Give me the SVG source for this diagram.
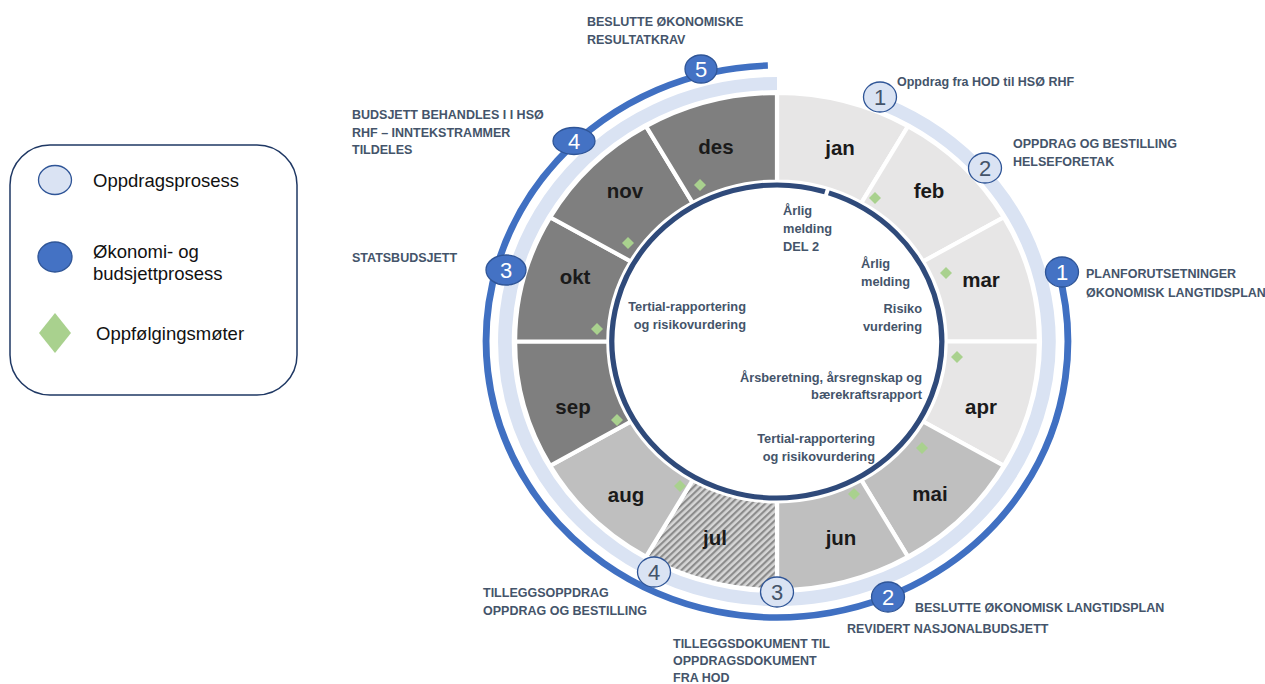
<svg xmlns="http://www.w3.org/2000/svg" width="1265" height="684" viewBox="0 0 1265 684">
<style>
.lbl{font-family:"Liberation Sans",Arial,sans-serif;font-weight:bold;font-size:12.5px;fill:#44546a}
.inn{font-family:"Liberation Sans",Arial,sans-serif;font-weight:bold;font-size:12.8px;fill:#44546a}
.mon{font-family:"Liberation Sans",Arial,sans-serif;font-weight:bold;font-size:20.5px;fill:#1a1a1a;text-anchor:middle}
.leg{font-family:"Liberation Sans",Arial,sans-serif;font-size:18.5px;fill:#111}
.num{font-family:"Liberation Sans",Arial,sans-serif;font-size:22px;text-anchor:middle}
.lc{fill:#dae3f3;stroke:#2f5597;stroke-width:1.3}
.dc{fill:#4472c4;stroke:#2f5597;stroke-width:1.3}
.lt{fill:#44546a}
.dt{fill:#fff}
.seg{stroke:#fff;stroke-width:4}
.m1{fill:#e7e6e6}
.m2{fill:#bfbfbf}
.m3{fill:#7f7f7f}
</style>
<defs>
<pattern id="hatch" patternUnits="userSpaceOnUse" width="4.6" height="4.6" patternTransform="rotate(45)">
<rect width="4.6" height="4.6" fill="#d6d6d6"/>
<rect width="2.1" height="4.6" fill="#8c8c8c"/>
</pattern>
<path id="dm" d="M0,-6 L6,0 L0,6 L-6,0Z" fill="#a9d18e"/>
</defs>
<rect width="1265" height="684" fill="#fff"/>

<g id="legend">
<rect x="10" y="145" width="287" height="250" rx="40" fill="#fff" stroke="#1f3864" stroke-width="1.5"/>
<ellipse class="lc" cx="55" cy="180" rx="16.5" ry="14.5"/>
<text class="leg" x="93" y="187">Oppdragsprosess</text>
<ellipse class="dc" cx="55" cy="257" rx="17" ry="15"/>
<text class="leg" x="93" y="258">Økonomi- og</text>
<text class="leg" x="93" y="280">budsjettprosess</text>
<path d="M55,313 L71,333 L55,353 L39,333Z" fill="#a9d18e"/>
<text class="leg" x="96" y="340">Oppfølgingsmøter</text>
</g>

<g id="connectors" transform="translate(777 341.5) scale(1.054 1)" fill="none">
<path id="oppdrag-band" d="M 88.2 -242.4 A 258 258 0 1 1 0 -258" stroke="#dae3f3" stroke-width="13"/>
<path id="okonomi-arc" d="M 266.6 -71.4 A 276 276 0 1 1 -8.67 -275.9" stroke="#4070c2" stroke-width="6.5"/>
</g>

<g id="wheel" transform="translate(777 341.5) scale(1.054 1)">
<g id="month-jan"><path class="seg m1" d="M0,-248.5 A248.5 248.5 0 0 1 124.25,-215.21 L80,-138.56 A160 160 0 0 0 0,-160Z"/></g>
<g id="month-feb"><path class="seg m1" d="M124.25,-215.21 A248.5 248.5 0 0 1 215.21,-124.25 L138.56,-80 A160 160 0 0 0 80,-138.56Z"/></g>
<g id="month-mar"><path class="seg m1" d="M215.21,-124.25 A248.5 248.5 0 0 1 248.5,0 L160,0 A160 160 0 0 0 138.56,-80Z"/></g>
<g id="month-apr"><path class="seg m1" d="M248.5,0 A248.5 248.5 0 0 1 215.21,124.25 L138.56,80 A160 160 0 0 0 160,0Z"/></g>
<g id="month-mai"><path class="seg m2" d="M215.21,124.25 A248.5 248.5 0 0 1 124.25,215.21 L80,138.56 A160 160 0 0 0 138.56,80Z"/></g>
<g id="month-jun"><path class="seg m2" d="M124.25,215.21 A248.5 248.5 0 0 1 0,248.5 L0,160 A160 160 0 0 0 80,138.56Z"/></g>
<g id="month-jul"><path class="seg" fill="url(#hatch)" d="M0,248.5 A248.5 248.5 0 0 1 -124.25,215.21 L-80,138.56 A160 160 0 0 0 0,160Z"/></g>
<g id="month-aug"><path class="seg m2" d="M-124.25,215.21 A248.5 248.5 0 0 1 -215.21,124.25 L-138.56,80 A160 160 0 0 0 -80,138.56Z"/></g>
<g id="month-sep"><path class="seg m3" d="M-215.21,124.25 A248.5 248.5 0 0 1 -248.5,0 L-160,0 A160 160 0 0 0 -138.56,80Z"/></g>
<g id="month-okt"><path class="seg m3" d="M-248.5,0 A248.5 248.5 0 0 1 -215.21,-124.25 L-138.56,-80 A160 160 0 0 0 -160,0Z"/></g>
<g id="month-nov"><path class="seg m3" d="M-215.21,-124.25 A248.5 248.5 0 0 1 -124.25,-215.21 L-80,-138.56 A160 160 0 0 0 -138.56,-80Z"/></g>
<g id="month-des"><path class="seg m3" d="M-124.25,-215.21 A248.5 248.5 0 0 1 0,-248.5 L0,-160 A160 160 0 0 0 -80,-138.56Z"/></g>
<g id="inner-ring"><path d="M 49.14 -148.58 A 156.5 156.5 0 1 1 45.50 -149.74" fill="none" stroke="#2f4a7a" stroke-width="5"/></g>
</g>

<g id="meetings">
<use href="#dm" x="700" y="185"/>
<use href="#dm" x="875" y="198"/>
<use href="#dm" x="628" y="243"/>
<use href="#dm" x="946" y="273"/>
<use href="#dm" x="597" y="329"/>
<use href="#dm" x="957" y="357"/>
<use href="#dm" x="617" y="420"/>
<use href="#dm" x="922" y="448"/>
<use href="#dm" x="680" y="486"/>
<use href="#dm" x="854" y="494"/>
</g>

<g id="month-labels">
<text class="mon" x="840" y="155">jan</text>
<text class="mon" x="929" y="198">feb</text>
<text class="mon" x="981" y="287">mar</text>
<text class="mon" x="981" y="414">apr</text>
<text class="mon" x="930" y="501">mai</text>
<text class="mon" x="841" y="545">jun</text>
<text class="mon" x="715" y="545">jul</text>
<text class="mon" x="626" y="502">aug</text>
<text class="mon" x="573" y="414">sep</text>
<text class="mon" x="575" y="284">okt</text>
<text class="mon" x="625" y="198">nov</text>
<text class="mon" x="716" y="154">des</text>
</g>

<g id="inner-texts">
<text class="inn" x="783" y="215">Årlig</text>
<text class="inn" x="783" y="233">melding</text>
<text class="inn" x="783" y="251">DEL 2</text>
<text class="inn" x="861" y="268">Årlig</text>
<text class="inn" x="861" y="286">melding</text>
<text class="inn" x="922" y="313" text-anchor="end">Risiko</text>
<text class="inn" x="922" y="331" text-anchor="end">vurdering</text>
<text class="inn" x="922" y="382" text-anchor="end">Årsberetning, årsregnskap og</text>
<text class="inn" x="922" y="399" text-anchor="end">bærekraftsrapport</text>
<text class="inn" x="875" y="443" text-anchor="end">Tertial-rapportering</text>
<text class="inn" x="875" y="461" text-anchor="end">og risikovurdering</text>
<text class="inn" x="746" y="311" text-anchor="end">Tertial-rapportering</text>
<text class="inn" x="746" y="329" text-anchor="end">og risikovurdering</text>
</g>

<g id="oppdrag-1"><ellipse class="lc" cx="880" cy="97" rx="16.5" ry="15"/><text class="num lt" x="880" y="105">1</text></g>
<g id="oppdrag-2"><ellipse class="lc" cx="985" cy="168" rx="16.5" ry="15"/><text class="num lt" x="985" y="176">2</text></g>
<g id="oppdrag-3"><ellipse class="lc" cx="777" cy="592" rx="16.5" ry="15"/><text class="num lt" x="777" y="600">3</text></g>
<g id="oppdrag-4"><ellipse class="lc" cx="654" cy="572" rx="16.5" ry="15"/><text class="num lt" x="654" y="580">4</text></g>

<g id="okonomi-1"><ellipse class="dc" cx="1062" cy="272" rx="16.5" ry="15"/><text class="num dt" x="1062" y="280">1</text></g>
<g id="okonomi-2"><ellipse class="dc" cx="888" cy="597" rx="16.5" ry="15"/><text class="num dt" x="888" y="605">2</text></g>
<g id="okonomi-3"><ellipse class="dc" cx="506" cy="270" rx="20" ry="15"/><text class="num dt" x="506" y="278">3</text></g>
<g id="okonomi-4"><ellipse class="dc" cx="574" cy="141" rx="21" ry="13.5"/><text class="num dt" x="574" y="149">4</text></g>
<g id="okonomi-5"><ellipse class="dc" cx="701" cy="69" rx="16" ry="14"/><text class="num dt" x="701" y="77">5</text></g>

<g id="labels">
<text class="lbl" x="587" y="26">BESLUTTE ØKONOMISKE</text>
<text class="lbl" x="587" y="44">RESULTATKRAV</text>
<text class="lbl" x="897" y="86">Oppdrag fra HOD til HSØ RHF</text>
<text class="lbl" x="1013" y="148">OPPDRAG OG BESTILLING</text>
<text class="lbl" x="1013" y="166">HELSEFORETAK</text>
<text class="lbl" x="1086" y="278">PLANFORUTSETNINGER</text>
<text class="lbl" x="1086" y="297">ØKONOMISK LANGTIDSPLAN</text>
<text class="lbl" x="352" y="119">BUDSJETT BEHANDLES I I HSØ</text>
<text class="lbl" x="352" y="137">RHF – INNTEKSTRAMMER</text>
<text class="lbl" x="352" y="154">TILDELES</text>
<text class="lbl" x="352" y="262">STATSBUDSJETT</text>
<text class="lbl" x="483" y="597">TILLEGGSOPPDRAG</text>
<text class="lbl" x="483" y="615">OPPDRAG OG BESTILLING</text>
<text class="lbl" x="673" y="648">TILLEGGSDOKUMENT TIL</text>
<text class="lbl" x="673" y="665">OPPDRAGSDOKUMENT</text>
<text class="lbl" x="673" y="682">FRA HOD</text>
<text class="lbl" x="915" y="612">BESLUTTE ØKONOMISK LANGTIDSPLAN</text>
<text class="lbl" x="847" y="633">REVIDERT NASJONALBUDSJETT</text>
</g>
</svg>
